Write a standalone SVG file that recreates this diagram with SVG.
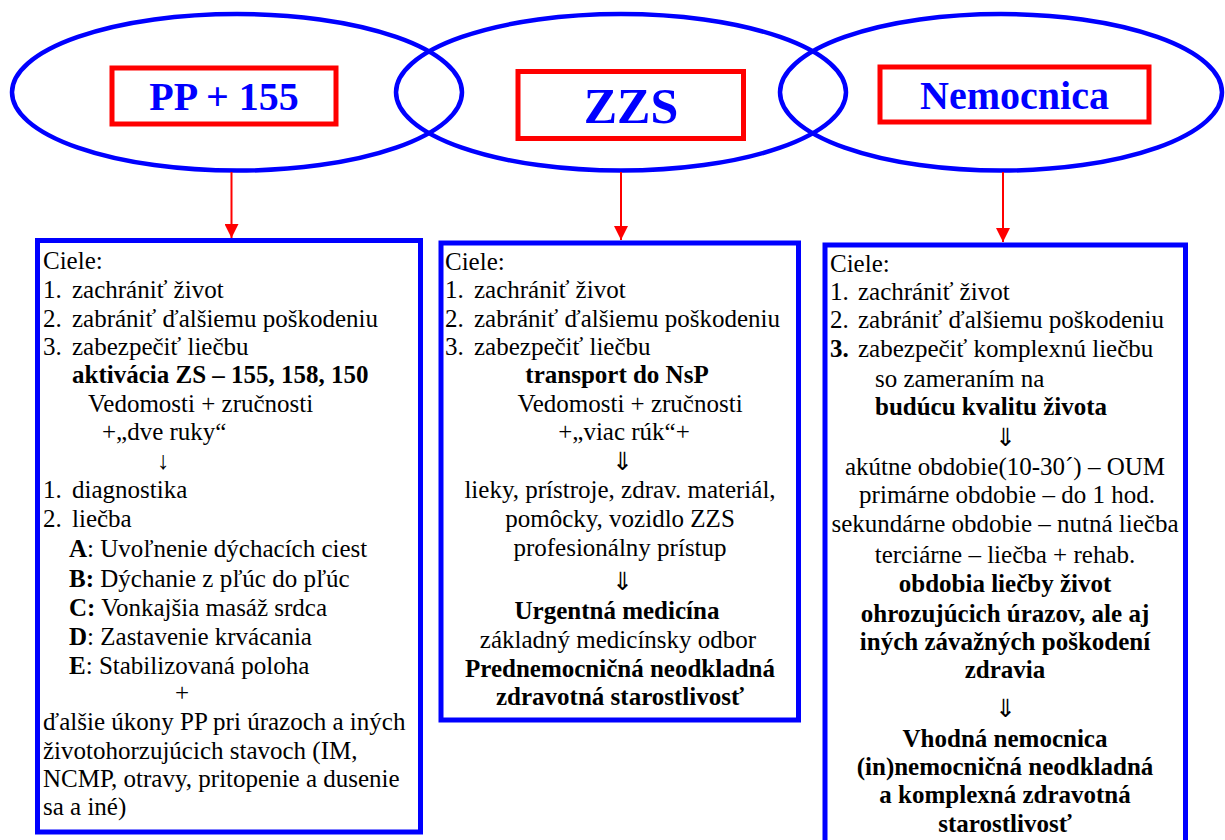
<svg xmlns="http://www.w3.org/2000/svg" width="1225" height="840" viewBox="0 0 1225 840">
<style>
.ell{fill:none;stroke:#0000FF;stroke-width:4.5}
.hb{fill:#FFFFFF;stroke:#FF0000;stroke-width:5}
.ht{font-family:"Liberation Serif","Times New Roman",serif;font-weight:bold;fill:#0000FF;text-anchor:middle}
.box{fill:#FFFFFF;stroke:#0000FF;stroke-width:5}
.t{font-family:"Liberation Serif","Times New Roman",serif;font-size:25px;fill:#000000}
.b{font-weight:bold}
.c{text-anchor:middle}
.arr{stroke:#FF0000;stroke-width:2;fill:none}
</style>
<defs>
<marker id="ah" markerUnits="userSpaceOnUse" markerWidth="14" markerHeight="14" refX="14" refY="7" orient="auto">
<path d="M0,0 L14,7 L0,14 Z" fill="#FF0000"/>
</marker>
</defs>
<rect width="1225" height="840" fill="#FFFFFF"/>

<g id="ellipses">
<ellipse class="ell" cx="237" cy="92.3" rx="225" ry="78.3"/>
<ellipse class="ell" cx="621" cy="92.3" rx="225" ry="78.3"/>
<ellipse class="ell" cx="1001" cy="92.3" rx="221" ry="78.3"/>
</g>

<g id="head-pp">
<rect class="hb" x="112" y="68" width="224" height="56"/>
<text class="ht" x="224" y="110" font-size="40">PP + 155</text>
</g>
<g id="head-zzs">
<rect class="hb" x="518" y="71.5" width="225.5" height="67"/>
<text class="ht" x="631" y="123" font-size="50">ZZS</text>
</g>
<g id="head-nemocnica">
<rect class="hb" x="880" y="67" width="269" height="55"/>
<text class="ht" x="1014.5" y="109" font-size="40">Nemocnica</text>
</g>

<g id="connectors">
<line class="arr" x1="231.5" y1="172" x2="231.5" y2="238" marker-end="url(#ah)"/>
<line class="arr" x1="621" y1="172" x2="621" y2="240" marker-end="url(#ah)"/>
<line class="arr" x1="1003" y1="172" x2="1003" y2="242" marker-end="url(#ah)"/>
</g>

<g id="box-pp">
<rect class="box" x="37.5" y="240.5" width="383" height="591.5"/>
<text class="t" x="43" y="269">Ciele:</text>
<text class="t" x="43" y="298">1.</text><text class="t" x="72" y="298">zachrániť život</text>
<text class="t" x="43" y="327">2.</text><text class="t" x="72" y="327">zabrániť ďalšiemu poškodeniu</text>
<text class="t" x="43" y="355">3.</text><text class="t" x="72" y="355">zabezpečiť liečbu</text>
<text class="t b" x="72" y="383">aktivácia ZS – 155, 158, 150</text>
<text class="t" x="88" y="412">Vedomosti + zručnosti</text>
<text class="t" x="102" y="440">+„dve ruky“</text>
<text class="t c" x="163" y="469" font-size="28">↓</text>
<text class="t" x="43" y="498">1.</text><text class="t" x="72" y="498">diagnostika</text>
<text class="t" x="43" y="527">2.</text><text class="t" x="72" y="527">liečba</text>
<text class="t" x="69" y="557"><tspan class="b">A</tspan>: Uvoľnenie dýchacích ciest</text>
<text class="t" x="69" y="587"><tspan class="b">B:</tspan> Dýchanie z pľúc do pľúc</text>
<text class="t" x="69" y="616"><tspan class="b">C:</tspan> Vonkajšia masáž srdca</text>
<text class="t" x="69" y="645"><tspan class="b">D</tspan>: Zastavenie krvácania</text>
<text class="t" x="69" y="674"><tspan class="b">E</tspan>: Stabilizovaná poloha</text>
<text class="t c" x="182" y="701">+</text>
<text class="t" x="43" y="730">ďalšie úkony PP pri úrazoch a iných</text>
<text class="t" x="43" y="759">životohorzujúcich stavoch (IM,</text>
<text class="t" x="43" y="787">NCMP, otravy, pritopenie a dusenie</text>
<text class="t" x="43" y="815">sa a iné)</text>
</g>

<g id="box-zzs">
<rect class="box" x="441" y="243" width="357.5" height="477"/>
<text class="t" x="445" y="270">Ciele:</text>
<text class="t" x="445" y="298">1.</text><text class="t" x="474" y="298">zachrániť život</text>
<text class="t" x="445" y="327">2.</text><text class="t" x="474" y="327">zabrániť ďalšiemu poškodeniu</text>
<text class="t" x="445" y="355">3.</text><text class="t" x="474" y="355">zabezpečiť liečbu</text>
<text class="t b c" x="617" y="383">transport do NsP</text>
<text class="t c" x="630" y="412">Vedomosti + zručnosti</text>
<text class="t c" x="624" y="440">+„viac rúk“+</text>
<text class="t c" x="622" y="470" font-size="24">⇓</text>
<text class="t c" x="620" y="498">lieky, prístroje, zdrav. materiál,</text>
<text class="t c" x="620" y="527">pomôcky, vozidlo ZZS</text>
<text class="t c" x="620" y="556">profesionálny prístup</text>
<text class="t c" x="622" y="590">⇓</text>
<text class="t b c" x="617" y="619">Urgentná medicína</text>
<text class="t c" x="618" y="648">základný medicínsky odbor</text>
<text class="t b c" x="620" y="677">Prednemocničná neodkladná</text>
<text class="t b c" x="620" y="705">zdravotná starostlivosť</text>
</g>

<g id="box-nemocnica">
<rect class="box" x="825" y="245" width="360.5" height="610"/>
<text class="t" x="830" y="272">Ciele:</text>
<text class="t" x="830" y="300">1.</text><text class="t" x="858" y="300">zachrániť život</text>
<text class="t" x="830" y="328">2.</text><text class="t" x="858" y="328">zabrániť ďalšiemu poškodeniu</text>
<text class="t b" x="830" y="357">3.</text><text class="t" x="858" y="357">zabezpečiť komplexnú liečbu</text>
<text class="t" x="875" y="387">so zameraním na</text>
<text class="t b" x="875" y="415">budúcu kvalitu života</text>
<text class="t c" x="1005" y="446">⇓</text>
<text class="t c" x="1005" y="475">akútne obdobie(10-30´) – OUM</text>
<text class="t c" x="1007" y="503">primárne obdobie – do 1 hod.</text>
<text class="t c" x="1005" y="532">sekundárne obdobie – nutná liečba</text>
<text class="t c" x="1005" y="563">terciárne – liečba + rehab.</text>
<text class="t b c" x="1005" y="592">obdobia liečby život</text>
<text class="t b c" x="1005" y="622">ohrozujúcich úrazov, ale aj</text>
<text class="t b c" x="1005" y="650">iných závažných poškodení</text>
<text class="t b c" x="1005" y="678">zdravia</text>
<text class="t c" x="1005" y="717" font-size="28">⇓</text>
<text class="t b c" x="1005" y="747" font-size="27">Vhodná nemocnica</text>
<text class="t b c" x="1005" y="775">(in)nemocničná neodkladná</text>
<text class="t b c" x="1005" y="803">a komplexná zdravotná</text>
<text class="t b c" x="1005" y="832">starostlivosť</text>
</g>
</svg>
